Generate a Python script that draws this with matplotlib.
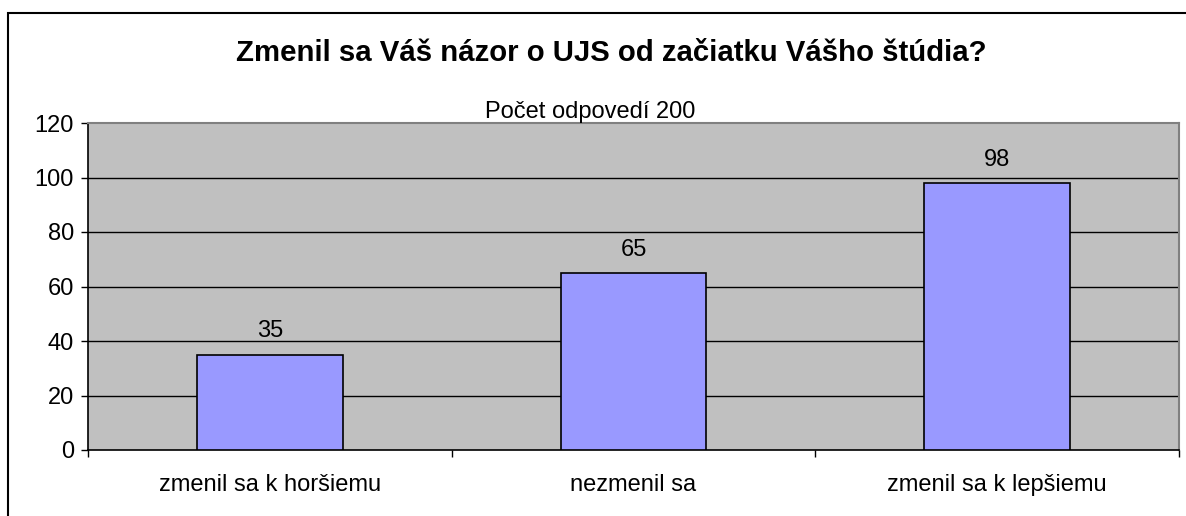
import matplotlib
matplotlib.use("Agg")
import matplotlib.pyplot as plt
from matplotlib.patches import Rectangle

categories = ["zmenil sa k horšiemu", "nezmenil sa", "zmenil sa k lepšiemu"]
values = [35, 65, 98]
yticks = [0, 20, 40, 60, 80, 100, 120]
title = "Zmenil sa Váš názor o UJS od začiatku Vášho štúdia?"
subtitle = "Počet odpovedí 200"

plt.rcParams['font.family'] = ['Liberation Sans', 'DejaVu Sans']

W, H = 1186, 516
fig = plt.figure(figsize=(W / 100, H / 100), dpi=100)
fig.patch.set_facecolor("white")

# outer frame (right and bottom edges fall outside the image)
fig.patches.append(Rectangle((8 / W, -0.1), 1.2, 1 - 13 / H + 0.1, transform=fig.transFigure,
                             fill=False, edgecolor="black", linewidth=1.5, zorder=0))

left, right, top, bottom = 88, 1179, 123, 450
ax = fig.add_axes([left / W, 1 - bottom / H, (right - left) / W, (bottom - top) / H])
ax.set_facecolor("#C0C0C0")

FS = 17
x = range(len(categories))
bars = ax.bar(x, values, width=0.4, color="#9999FF", edgecolor="black", linewidth=1.2, zorder=3)
ax.set_xlim(-0.5, len(categories) - 0.5)
ax.set_ylim(0, 120)
ax.set_yticks(yticks)
ax.set_yticklabels([str(v) for v in yticks], fontsize=FS)
for v in yticks[1:-1]:
    ax.axhline(v, color="black", linewidth=1, zorder=1)

for i, v in enumerate(values):
    ax.text(i, v + 4.5, str(v), ha="center", va="bottom", fontsize=FS)

ax.set_xticks([i - 0.5 for i in range(len(categories) + 1)], minor=False)
ax.set_xticklabels([])
ax.set_xticks(list(x), minor=True)
ax.set_xticklabels(categories, minor=True, fontsize=FS)
ax.tick_params(axis="x", which="major", direction="out", length=5, width=1, color="black")
ax.tick_params(axis="x", which="minor", length=0, pad=17)
ax.tick_params(axis="y", direction="out", length=5, width=1, pad=5)

for s in ["top", "right"]:
    ax.spines[s].set_color("#808080")
    ax.spines[s].set_linewidth(1.5)
for s in ["left", "bottom"]:
    ax.spines[s].set_color("black")
    ax.spines[s].set_linewidth(1.2)

fig.text(611 / W, 1 - 53 / H, title, ha="center", va="center", fontsize=21.2, fontweight="bold")
fig.text(590 / W, 1 - 112 / H, subtitle, ha="center", va="center", fontsize=FS)

fig.savefig("out.png", dpi=100)
